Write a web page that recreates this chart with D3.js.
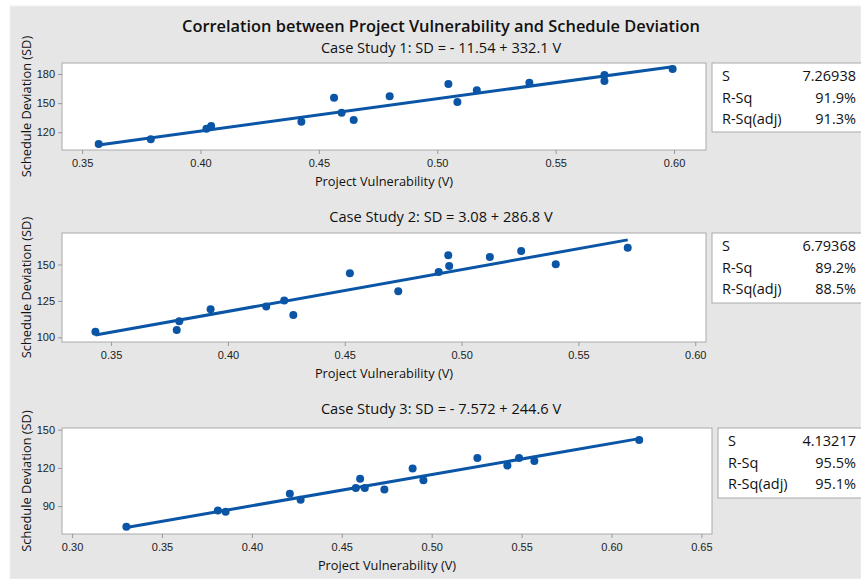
<!DOCTYPE html>
<html>
<head>
<meta charset="utf-8">
<script src="https://cdn.jsdelivr.net/npm/d3@7"></script>
<style>
  body { margin: 0; background: #fff; }
  svg { display: block; font-family: "Open Sans", "Noto Sans", sans-serif; }
  .tick text { font-size: 11px; fill: #222; }
  .tick line { stroke: #999; }
  .domain { display: none; }
</style>
</head>
<body>
<div id="chart"></div>
<script>
// data
var case1V = [0.357, 0.379, 0.4025, 0.4045, 0.4426, 0.4564, 0.4596, 0.4647, 0.4799, 0.5047, 0.5085, 0.5167, 0.5389, 0.5706, 0.5706, 0.5994];
var case1SD = [108.0, 112.8, 123.7, 126.5, 130.9, 155.6, 140.1, 132.6, 157.0, 169.6, 151.1, 163.2, 171.0, 178.9, 172.7, 185.0];

var case2V = [0.3433, 0.3781, 0.3792, 0.3926, 0.4164, 0.4241, 0.4280, 0.4522, 0.4729, 0.4902, 0.4943, 0.4947, 0.5121, 0.5255, 0.5403, 0.5711];
var case2SD = [103.8, 105.0, 111.0, 119.2, 121.2, 125.3, 115.3, 144.0, 131.7, 144.9, 156.4, 149.0, 155.2, 159.3, 150.2, 161.4];

var case3V = [0.3302, 0.3811, 0.3854, 0.4211, 0.4271, 0.4578, 0.4602, 0.4628, 0.4737, 0.4894, 0.4954, 0.5254, 0.5421, 0.5486, 0.5571, 0.6154];
var case3SD = [73.8, 86.6, 85.5, 99.6, 94.9, 104.3, 111.4, 104.3, 103.1, 119.5, 110.3, 127.8, 121.8, 127.8, 125.4, 141.8];

// fitted lines: SD = a + b V
var intercepts = [-11.54, 3.08, -7.572];
var slopes = [332.1, 286.8, 244.6];
var subtitles = [
  "Case Study 1: SD = - 11.54 + 332.1 V",
  "Case Study 2: SD = 3.08 + 286.8 V",
  "Case Study 3: SD = - 7.572 + 244.6 V"
];
var statLabels = ["S", "R-Sq", "R-Sq(adj)"];
var statValues = [
  ["7.26938", "91.9%", "91.3%"],
  ["6.79368", "89.2%", "88.5%"],
  ["4.13217", "95.5%", "95.1%"]
];
var xTicks = [
  [0.35, 0.40, 0.45, 0.50, 0.55, 0.60],
  [0.35, 0.40, 0.45, 0.50, 0.55, 0.60],
  [0.30, 0.35, 0.40, 0.45, 0.50, 0.55, 0.60, 0.65]
];
var yTicks = [[120, 150, 180], [100, 125, 150], [90, 120, 150]];
var xDomains = [[0.3415, 0.6135], [0.329, 0.6046], [0.2944, 0.6559]];
var yDomains = [[101.8, 191.3], [96.8, 171.6], [68.1, 151.3]];

var svgWidth = 861;
var svgHeight = 579;
var blue = "#0a55a5";

var svg = d3.select("#chart")
  .append("svg")
  .attr("width", svgWidth)
  .attr("height", svgHeight);

// grey panel background
svg.append("rect")
  .attr("x", 10).attr("y", 6)
  .attr("width", svgWidth - 10).attr("height", svgHeight - 6)
  .attr("fill", "#e6e6e6")
  .attr("stroke", "#f0f0f0");

svg.append("text")
  .attr("x", 441).attr("y", 32)
  .attr("text-anchor", "middle")
  .attr("font-size", 16.4)
  .attr("font-weight", 600)
  .attr("fill", "#111")
  .text("Correlation between Project Vulnerability and Schedule Deviation");

// layout of each panel (plot box + stats box)
var panels = [
  { top: 63, bottom: 150, left: 62, right: 706, statX: 712, statTop: 63, statBottom: 132, subY: 53, labelY: 186, sX: 722 },
  { top: 233, bottom: 342, left: 62, right: 706, statX: 712, statTop: 233, statBottom: 303, subY: 222, labelY: 378, sX: 722 },
  { top: 428, bottom: 534, left: 62, right: 712, statX: 718, statTop: 428, statBottom: 498, subY: 414, labelY: 570, sX: 728 }
];
var allV = [case1V, case2V, case3V];
var allSD = [case1SD, case2SD, case3SD];

panels.forEach(function(p, i) {
  var x = d3.scaleLinear().domain(xDomains[i]).range([p.left, p.right]);
  var y = d3.scaleLinear().domain(yDomains[i]).range([p.bottom, p.top]);

  // subtitle
  svg.append("text")
    .attr("x", 441).attr("y", p.subY)
    .attr("text-anchor", "middle")
    .attr("font-size", 14.6)
    .attr("fill", "#111")
    .text(subtitles[i]);

  // plot area
  svg.append("rect")
    .attr("x", p.left).attr("y", p.top)
    .attr("width", p.right - p.left).attr("height", p.bottom - p.top)
    .attr("fill", "#fff")
    .attr("stroke", "#aaa");

  svg.append("g")
    .attr("transform", `translate(0, ${p.bottom})`)
    .call(d3.axisBottom(x).tickValues(xTicks[i]).tickFormat(d3.format(".2f")).tickSize(4).tickPadding(5));

  svg.append("g")
    .attr("transform", `translate(${p.left}, 0)`)
    .call(d3.axisLeft(y).tickValues(yTicks[i]).tickSize(4).tickPadding(3));

  // axis titles
  svg.append("text")
    .attr("x", (p.left + p.right) / 2).attr("y", p.labelY)
    .attr("text-anchor", "middle")
    .attr("font-size", 12.8)
    .attr("fill", "#111")
    .text("Project Vulnerability (V)");

  svg.append("text")
    .attr("transform", `translate(31, ${(p.top + p.bottom) / 2}) rotate(-90)`)
    .attr("text-anchor", "middle")
    .attr("font-size", 12.8)
    .attr("fill", "#111")
    .text("Schedule Deviation (SD)");

  // fitted line
  var vExt = d3.extent(allV[i]);
  var fit = d3.line()
    .x(d => x(d))
    .y(d => y(intercepts[i] + slopes[i] * d));
  svg.append("path")
    .datum(vExt)
    .attr("d", fit)
    .attr("fill", "none")
    .attr("stroke", blue)
    .attr("stroke-width", 3);

  // points
  svg.append("g").selectAll("circle")
    .data(allV[i].map((v, k) => [v, allSD[i][k]]))
    .enter()
    .append("circle")
    .attr("cx", d => x(d[0]))
    .attr("cy", d => y(d[1]))
    .attr("r", 4)
    .attr("fill", blue);

  // stats box
  svg.append("rect")
    .attr("x", p.statX).attr("y", p.statTop)
    .attr("width", svgWidth - p.statX + 5).attr("height", p.statBottom - p.statTop)
    .attr("fill", "#fff")
    .attr("stroke", "#aaa");

  statLabels.forEach(function(lab, r) {
    var ty = p.statTop + 18 + r * 21.5;
    svg.append("text")
      .attr("x", p.sX).attr("y", ty)
      .attr("font-size", 14.5)
      .attr("fill", "#111")
      .text(lab);
    svg.append("text")
      .attr("x", 856).attr("y", ty)
      .attr("text-anchor", "end")
      .attr("font-size", 14.5)
      .attr("fill", "#111")
      .text(statValues[i][r]);
  });
});
</script>
</body>
</html>
